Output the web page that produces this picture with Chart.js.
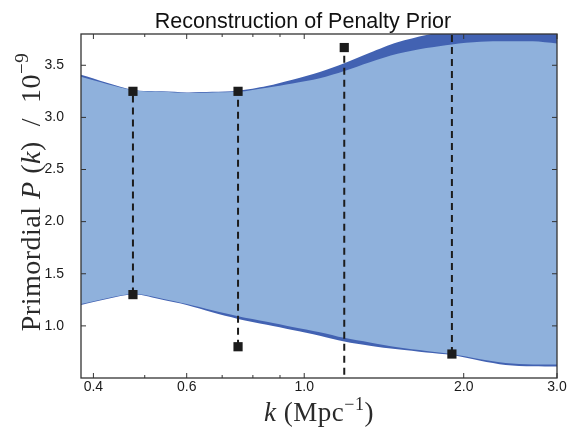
<!DOCTYPE html>
<html>
<head>
<meta charset="utf-8">
<script src="https://cdn.jsdelivr.net/npm/chart.js@4.4.1/dist/chart.umd.min.js"></script>
<style>
  html, body { margin: 0; padding: 0; background: #fff; }
  canvas { display: block; }
</style>
</head>
<body>
<canvas id="chart" width="579" height="433"></canvas>
<script>
// band samples, k in Mpc^-1, P(k) in units of 1e-9
const bandK      = [0.379, 0.475, 0.54, 0.6, 0.67, 0.75, 0.85, 0.95, 1.07, 1.19, 1.33, 1.5, 1.7, 1.9, 2.15, 2.4, 2.7, 3.0];
const darkUpper  = [3.41, 3.265, 3.25, 3.24, 3.245, 3.255, 3.30, 3.36, 3.435, 3.52, 3.62, 3.72, 3.79, 3.84, 3.88, 3.9, 3.9, 3.9];
const lightUpper = [3.39, 3.26, 3.245, 3.235, 3.24, 3.245, 3.285, 3.325, 3.375, 3.445, 3.53, 3.61, 3.665, 3.70, 3.725, 3.73, 3.73, 3.71];
const lightLower = [1.21, 1.305, 1.26, 1.21, 1.15, 1.093, 1.04, 0.99, 0.94, 0.885, 0.84, 0.795, 0.76, 0.73, 0.68, 0.645, 0.63, 0.63];
const darkLower  = [1.20, 1.30, 1.25, 1.20, 1.13, 1.067, 1.01, 0.96, 0.905, 0.85, 0.81, 0.775, 0.745, 0.72, 0.665, 0.625, 0.612, 0.61];

// knots of the prior (lower / upper limits)
const knotK     = [0.475, 0.75, 1.19, 1.9];
const knotUpper = [3.25, 3.25, 3.67, 4.0];
const knotLower = [1.3, 0.8, 0.3, 0.73];

const xTicks      = [0.4, 0.6, 1.0, 2.0, 3.0];
const xMinorTicks = [0.5, 0.7, 0.8, 0.9];
const yTicks      = [1.0, 1.5, 2.0, 2.5, 3.0, 3.5];

const DARK = 'rgb(66, 98, 178)';
const LIGHT = 'rgb(143, 177, 220)';

const pts = (xs, ys) => xs.map((x, i) => ({ x: x, y: ys[i] }));

function band(values, color, target, order) {
  return {
    data: pts(bandK, values),
    borderWidth: 0,
    borderColor: 'transparent',
    backgroundColor: color,
    pointRadius: 0,
    tension: 0.3,
    fill: target === null ? false : { target: target },
    clip: 0,
    order: order
  };
}

const datasets = [
  band(darkUpper, DARK, 1, 3),
  band(darkLower, DARK, null, 3),
  band(lightUpper, LIGHT, 3, 2),
  band(lightLower, LIGHT, null, 2)
];

// dashed line + square markers for each knot
knotK.forEach((k, i) => {
  datasets.push({
    data: [{ x: k, y: knotLower[i] }, { x: k, y: knotUpper[i] }],
    borderColor: '#1c1c1c',
    borderWidth: 2,
    borderDash: [7, 5],
    pointStyle: 'rect',
    pointRadius: 6.5,
    pointBackgroundColor: '#1c1c1c',
    pointBorderWidth: 0,
    fill: false,
    clip: 0,
    order: 1
  });
});

// frame with inward ticks on all sides
const frame = {
  id: 'frame',
  afterDatasetsDraw(chart) {
    const { ctx, chartArea: a, scales: { x, y } } = chart;
    ctx.save();
    ctx.strokeStyle = '#333';
    ctx.lineWidth = 1.3;
    ctx.strokeRect(a.left, a.top, a.right - a.left, a.bottom - a.top);
    ctx.lineWidth = 1;
    ctx.beginPath();
    const vt = (v, len) => {
      const px = x.getPixelForValue(v);
      ctx.moveTo(px, a.bottom); ctx.lineTo(px, a.bottom - len);
      ctx.moveTo(px, a.top); ctx.lineTo(px, a.top + len);
    };
    xTicks.forEach(v => vt(v, 5));
    xMinorTicks.forEach(v => vt(v, 3));
    yTicks.forEach(v => {
      const py = y.getPixelForValue(v);
      ctx.moveTo(a.left, py); ctx.lineTo(a.left + 5, py);
      ctx.moveTo(a.right, py); ctx.lineTo(a.right - 5, py);
    });
    ctx.stroke();
    ctx.restore();
  }
};

// draw a run of text pieces: [text, font, raise]
function runWidth(ctx, parts) {
  let w = 0;
  parts.forEach(p => { ctx.font = p[1]; w += ctx.measureText(p[0]).width; });
  return w;
}
function drawRun(ctx, parts, x0, y0) {
  let x = x0;
  parts.forEach(p => {
    ctx.font = p[1];
    ctx.fillText(p[0], x, y0 - (p[2] || 0));
    x += ctx.measureText(p[0]).width;
  });
}

const labels = {
  id: 'labels',
  afterDraw(chart) {
    const { ctx, chartArea: a } = chart;
    ctx.save();
    ctx.textBaseline = 'alphabetic';
    ctx.textAlign = 'left';

    // title
    ctx.fillStyle = '#111';
    ctx.font = '21.5px "Liberation Sans", Arial, sans-serif';
    const title = 'Reconstruction of Penalty Prior';
    ctx.fillText(title, 303 - ctx.measureText(title).width / 2, 28);

    const serif = '"Liberation Serif", "Times New Roman", serif';
    ctx.fillStyle = '#2a2a2a';
    if ('letterSpacing' in ctx) ctx.letterSpacing = '0.5px';

    // x axis label
    const xl = [
      ['k', 'italic 27px ' + serif],
      [' (Mpc', '27px ' + serif],
      ['\u22121', '18px ' + serif, 11],
      [')', '27px ' + serif]
    ];
    drawRun(ctx, xl, (a.left + a.right) / 2 - runWidth(ctx, xl) / 2, 421);

    // y axis label
    const yl = [
      ['Primordial ', '28px ' + serif],
      ['P', 'italic 28px ' + serif],
      [' (', '28px ' + serif],
      ['k', 'italic 28px ' + serif],
      [')  /  10', '28px ' + serif],
      ['\u22129', '19px ' + serif, 12]
    ];
    ctx.translate(40, 192);
    ctx.rotate(-Math.PI / 2);
    drawRun(ctx, yl, -runWidth(ctx, yl) / 2, 0);
    ctx.restore();
  }
};

const tickFont = { family: '"Liberation Sans", Arial, sans-serif', size: 14 };

new Chart(document.getElementById('chart'), {
  type: 'line',
  data: { datasets: datasets },
  options: {
    responsive: false,
    animation: false,
    events: [],
    layout: { padding: { top: 34, right: 22, left: 0, bottom: 0 } },
    plugins: { legend: { display: false }, tooltip: { enabled: false }, title: { display: false } },
    scales: {
      x: {
        type: 'logarithmic',
        min: 0.379,
        max: 3.0,
        grid: { display: false, drawTicks: false },
        border: { display: false },
        afterBuildTicks: s => { s.ticks = xTicks.map(v => ({ value: v })); },
        afterFit: s => { s.height = 55; },
        ticks: {
          font: tickFont,
          color: '#1a1a1a',
          padding: 1,
          maxRotation: 0,
          autoSkip: false,
          callback: v => Number(v).toFixed(1)
        }
      },
      y: {
        type: 'linear',
        min: 0.5,
        max: 3.8,
        grid: { display: false, drawTicks: false },
        border: { display: false },
        afterBuildTicks: s => { s.ticks = yTicks.map(v => ({ value: v })); },
        afterFit: s => { s.width = 81; },
        ticks: {
          font: tickFont,
          color: '#1a1a1a',
          padding: 17,
          callback: v => Number(v).toFixed(1)
        }
      }
    }
  },
  plugins: [frame, labels]
});
</script>
</body>
</html>
